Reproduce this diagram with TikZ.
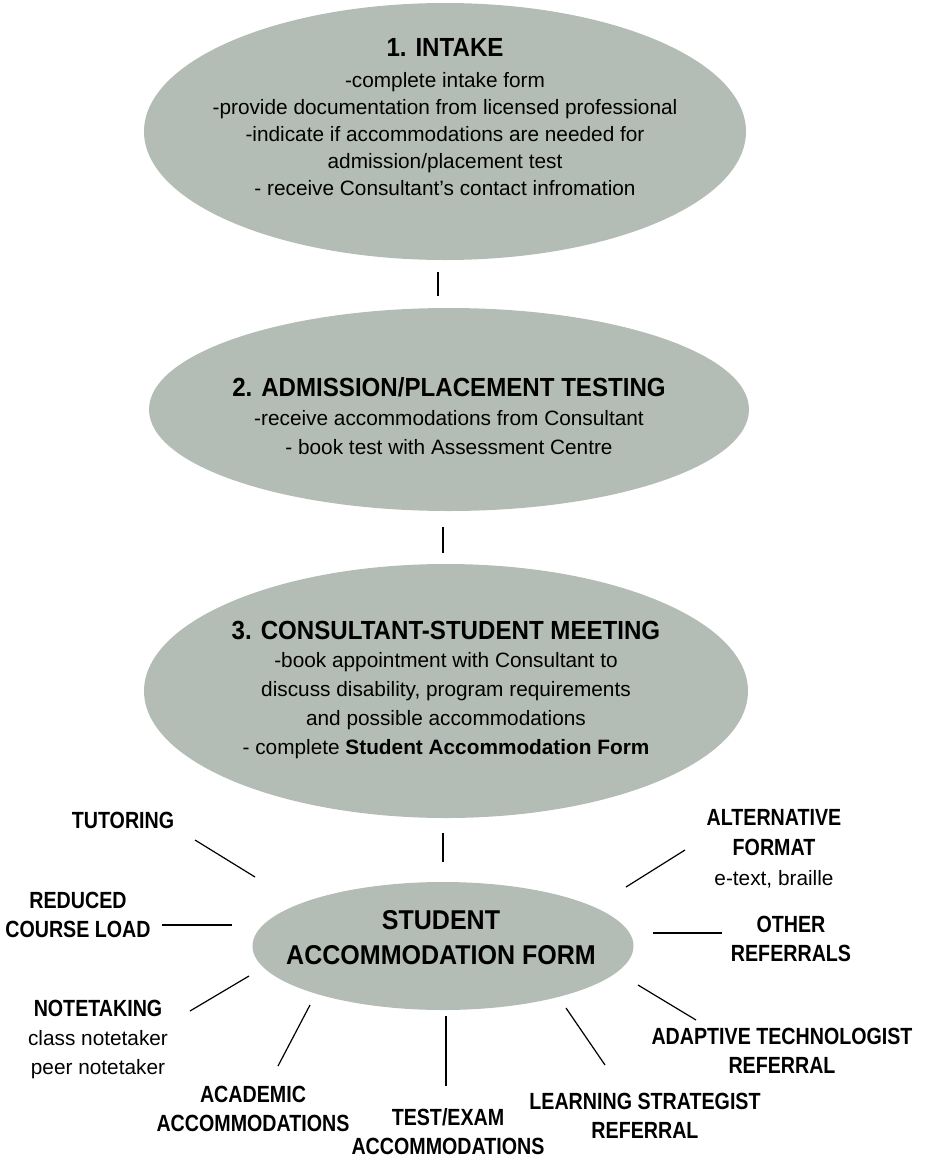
\documentclass[tikz,border=0pt]{standalone}
\usepackage{fontspec}
\setmainfont{Liberation Sans}
\newfontfamily\headfont{Liberation Sans}[FakeStretch=0.92]
\newfontfamily\tagfont{Liberation Sans}[FakeStretch=0.84]
\usetikzlibrary{shapes.geometric}
\definecolor{stagegrey}{RGB}{180,189,181}

\begin{document}
\begin{tikzpicture}[x=0.5pt,y=-0.5pt,
  stagebox/.style={ellipse,fill=stagegrey,draw=none,inner sep=0pt},
  titletext/.style={inner sep=0pt,font=\headfont\bfseries\fontsize{13.1}{15}\selectfont},
  bodytext/.style={inner sep=0pt,align=center,anchor=north},
  tagtext/.style={inner sep=0pt,align=center,font=\tagfont\bfseries\fontsize{11.7}{14.5}\selectfont},
  linkline/.style={line width=1.3pt},
  spokeline/.style={line width=0.6pt}]

\newcommand\tagbf[1]{{\tagfont\bfseries\fontsize{11.7}{15}\selectfont #1}}

\useasboundingbox (0,0) rectangle (926,1157);

% stages
\node[stagebox,minimum width=301pt,minimum height=128.5pt] (intake) at (445,131.5) {};
\node[stagebox,minimum width=300pt,minimum height=101.5pt] (admission) at (449,409.5) {};
\node[stagebox,minimum width=302pt,minimum height=127pt] (meeting) at (446,691) {};
\node[stagebox,minimum width=190.5pt,minimum height=64pt] (form) at (443,946) {};

\node[titletext] (intake-t) at (445,47) {1. INTAKE};
\node[bodytext,font=\fontsize{10.4}{13.4}\selectfont] (intake-b) at (445,72.5)
  {-complete intake form\\
   -provide documentation from licensed professional\\
   -indicate if accommodations are needed for\\
   admission/placement test\\
   - receive Consultant’s contact infromation};

\node[titletext] (admission-t) at (449,387) {2. ADMISSION/PLACEMENT TESTING};
\node[bodytext,font=\fontsize{10.4}{14.15}\selectfont] (admission-b) at (449,410.5)
  {-receive accommodations from Consultant\\
   - book test with Assessment Centre};

\node[titletext] (meeting-t) at (446,630) {3. CONSULTANT-STUDENT MEETING};
\node[bodytext,font=\fontsize{10.4}{14.45}\selectfont] (meeting-b) at (446,652.5)
  {-book appointment with Consultant to\\
   discuss disability, program requirements\\
   and possible accommodations\\
   - complete \textbf{Student Accommodation Form}};

\node[inner sep=0pt,align=center,font=\headfont\bfseries\fontsize{13.6}{17.5}\selectfont] (form-t) at (441,937.5)
  {STUDENT\\ACCOMMODATION FORM};

\draw[linkline,shorten <=6pt,shorten >=6pt] ([xshift=-3.5pt]intake.south) -- ([xshift=-5.5pt]admission.north);
\draw[linkline,shorten <=8pt,shorten >=5.5pt] ([xshift=-3pt]admission.south) -- ([xshift=-1.5pt]meeting.north);
\draw[linkline,shorten <=7.5pt,shorten >=10pt] ([xshift=-1.5pt]meeting.south) -- (form.north);

% labels round the form
\node[tagtext] (tutoring) at (123,820) {TUTORING};
\node[tagtext] (reduced) at (78,915) {REDUCED\\COURSE LOAD};
\node[bodytext,font=\fontsize{10.4}{14.5}\selectfont] (notetaking) at (98,1000)
  {\tagbf{NOTETAKING}\\class notetaker\\peer notetaker};
\node[tagtext] (academic) at (253,1108.5) {ACADEMIC\\ACCOMMODATIONS};
\node[tagtext] (testexam) at (448,1131.5) {TEST/EXAM\\ACCOMMODATIONS};
\node[tagtext] (learning) at (645,1116) {LEARNING STRATEGIST\\REFERRAL};
\node[tagtext] (adaptive) at (782,1051) {ADAPTIVE TECHNOLOGIST\\REFERRAL};
\node[tagtext] (other) at (791,939) {OTHER\\REFERRALS};
\node[bodytext,font=\fontsize{10.4}{15}\selectfont] (alternative) at (774,808.5)
  {\tagbf{ALTERNATIVE}\\\tagbf{FORMAT}\\e-text, braille};

% spokes
\coordinate (tut1) at (195,840);  \coordinate (tut2) at (255,877);
\coordinate (red1) at (162,925);  \coordinate (red2) at (232,925);
\coordinate (not1) at (190,1011); \coordinate (not2) at (249,976);
\coordinate (aca1) at (278,1066); \coordinate (aca2) at (310,1005);
\coordinate (tes1) at (446,1016); \coordinate (tes2) at (446,1086);
\coordinate (lea1) at (566,1008); \coordinate (lea2) at (605,1065);
\coordinate (ada1) at (638,985);  \coordinate (ada2) at (696,1020);
\coordinate (oth1) at (653,933);  \coordinate (oth2) at (722,933);
\coordinate (alt1) at (626,887);  \coordinate (alt2) at (685,850);

\draw[spokeline] (tut1) -- (tut2); % tutoring
\draw[spokeline] (red1) -- (red2); % reduced
\draw[spokeline] (not1) -- (not2); % notetaking
\draw[spokeline] (aca1) -- (aca2); % academic
\draw[spokeline] (tes1) -- (tes2); % test/exam
\draw[spokeline] (lea1) -- (lea2); % learning
\draw[spokeline] (ada1) -- (ada2); % adaptive
\draw[spokeline] (oth1) -- (oth2); % other
\draw[spokeline] (alt1) -- (alt2); % alternative

\end{tikzpicture}
\end{document}
